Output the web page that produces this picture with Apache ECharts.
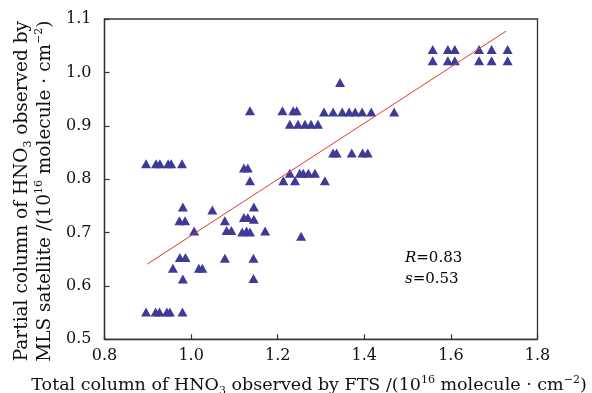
<!DOCTYPE html>
<html>
<head>
<meta charset="utf-8">
<script src="https://cdn.jsdelivr.net/npm/echarts@6/dist/echarts.min.js"></script>
<style>
html,body{margin:0;padding:0;background:#fff;}
#chart{width:592px;height:393px;}
</style>
</head>
<body>
<div id="chart"></div>
<script>
// FTS total column (x) and MLS partial column (y), 10^16 molecule/cm^2
const ftsValues = [
  0.896, 0.919, 0.928, 0.947, 0.954, 0.979,
  0.896, 0.918, 0.927, 0.944, 0.951, 0.980,
  0.981, 1.049, 0.973, 0.986, 1.007, 1.078, 1.082, 1.093,
  0.974, 0.987, 0.958, 1.018, 1.026, 0.981, 1.078,
  1.122, 1.131, 1.136, 1.145, 1.122, 1.131, 1.145,
  1.118, 1.128, 1.136, 1.171, 1.144, 1.144,
  1.136, 1.211, 1.236, 1.244,
  1.228, 1.247, 1.263, 1.277, 1.293,
  1.307, 1.328, 1.349, 1.365, 1.379, 1.395, 1.416, 1.469,
  1.344,
  1.328, 1.336, 1.371, 1.396, 1.408,
  1.228, 1.251, 1.259, 1.271, 1.286,
  1.213, 1.240, 1.309,
  1.254,
  1.558, 1.593, 1.609, 1.665, 1.694, 1.731,
  1.558, 1.593, 1.609, 1.665, 1.694, 1.731
];
const mlsValues = [
  0.829, 0.829, 0.829, 0.829, 0.829, 0.829,
  0.551, 0.551, 0.551, 0.551, 0.551, 0.551,
  0.748, 0.742, 0.722, 0.722, 0.703, 0.722, 0.704, 0.704,
  0.653, 0.653, 0.633, 0.633, 0.633, 0.613, 0.652,
  0.821, 0.821, 0.797, 0.748, 0.728, 0.728, 0.725,
  0.701, 0.703, 0.701, 0.703, 0.652, 0.614,
  0.928, 0.928, 0.928, 0.928,
  0.903, 0.903, 0.903, 0.903, 0.903,
  0.926, 0.926, 0.926, 0.926, 0.926, 0.926, 0.926, 0.926,
  0.981,
  0.849, 0.849, 0.849, 0.849, 0.849,
  0.811, 0.811, 0.811, 0.811, 0.811,
  0.797, 0.797, 0.797,
  0.693,
  1.043, 1.043, 1.043, 1.043, 1.043, 1.043,
  1.022, 1.022, 1.022, 1.022, 1.022, 1.022
];
// fitted regression line endpoints
const fitX = [0.899, 1.727];
const fitY = [0.641, 1.077];
const xTicks = [0.8, 1.0, 1.2, 1.4, 1.6, 1.8];
const yTicks = [0.5, 0.6, 0.7, 0.8, 0.9, 1.0, 1.1];
const statR = '0.83';
const statS = '0.53';

const FONT = 'DejaVu Serif';
const scatterData = ftsValues.map((x, i) => [x, mlsValues[i]]);
const fitData = fitX.map((x, i) => [x, fitY[i]]);

function richName(fs, lh) {
  return {
    a: {fontFamily: FONT, fontSize: fs, color: '#111', lineHeight: lh},
    sub: {fontFamily: FONT, fontSize: Math.round(fs * 0.62), color: '#111', lineHeight: Math.round(lh * 0.55), verticalAlign: 'bottom'},
    sup: {fontFamily: FONT, fontSize: Math.round(fs * 0.6), color: '#111', lineHeight: Math.round(lh * 0.45), verticalAlign: 'top'}
  };
}

const chart = echarts.init(document.getElementById('chart'), null, {renderer: 'canvas'});
chart.setOption({
  animation: false,
  backgroundColor: '#fff',
  grid: {left: 104.5, right: 54.5, top: 19, bottom: 53.7, show: true, borderColor: '#333', borderWidth: 1.3,
         backgroundColor: 'transparent', containLabel: false, outerBoundsMode: 'none'},
  xAxis: {
    type: 'value', min: xTicks[0], max: xTicks[xTicks.length-1], interval: 0.2,
    name: '{a|Total column of HNO}{sub|3}{a| observed by FTS /(10}{sup|16}{a| molecule · cm}{sup|−2}{a|)}',
    nameLocation: 'middle', nameGap: 35,
    nameTextStyle: {rich: richName(17.5, 22), padding: [0, 24, 0, 0]},
    axisLine: {show: true, lineStyle: {color: '#333', width: 1.3}},
    axisTick: {show: true, inside: true, length: 5, lineStyle: {color: '#333', width: 1.2}},
    axisLabel: {fontFamily: FONT, fontSize: 16, color: '#111', margin: 9, formatter: v => v.toFixed(1)},
    splitLine: {show: false}
  },
  yAxis: {
    type: 'value', min: yTicks[0], max: yTicks[yTicks.length-1], interval: 0.1,
    name: '{a|Partial column of HNO}{sub|3}{a| observed by}\n{a|MLS satellite /(10}{sup|16}{a| molecule · cm}{sup|−2}{a|)}',
    nameLocation: 'middle', nameGap: 48, nameRotate: 90,
    nameTextStyle: {rich: richName(18.5, 23), align: 'center', padding: [0, 24, 0, 0]},
    axisLine: {show: true, lineStyle: {color: '#333', width: 1.3}},
    axisTick: {show: true, inside: true, length: 5, lineStyle: {color: '#333', width: 1.2}},
    axisLabel: {fontFamily: FONT, fontSize: 16, color: '#111', margin: 13, formatter: v => v.toFixed(1)},
    splitLine: {show: false}
  },
  series: [
    {
      type: 'scatter', data: scatterData, symbol: 'triangle', symbolSize: [10, 9],
      itemStyle: {color: '#3e3a96', opacity: 1}, z: 3
    },
    {
      type: 'line', data: fitData, symbol: 'none', z: 4,
      lineStyle: {color: '#e8382f', width: 1}
    }
  ],
  graphic: [
    {
      type: 'text', left: 405, top: 251,
      style: {
        text: '{i|R}{n|=' + statR + '}\n{i|s}{n|=' + statS + '}',
        rich: {
          i: {fontFamily: FONT, fontStyle: 'italic', fontSize: 15, color: '#111', lineHeight: 21},
          n: {fontFamily: FONT, fontSize: 15, color: '#111', lineHeight: 21}
        }
      }
    }
  ]
});
</script>
</body>
</html>
